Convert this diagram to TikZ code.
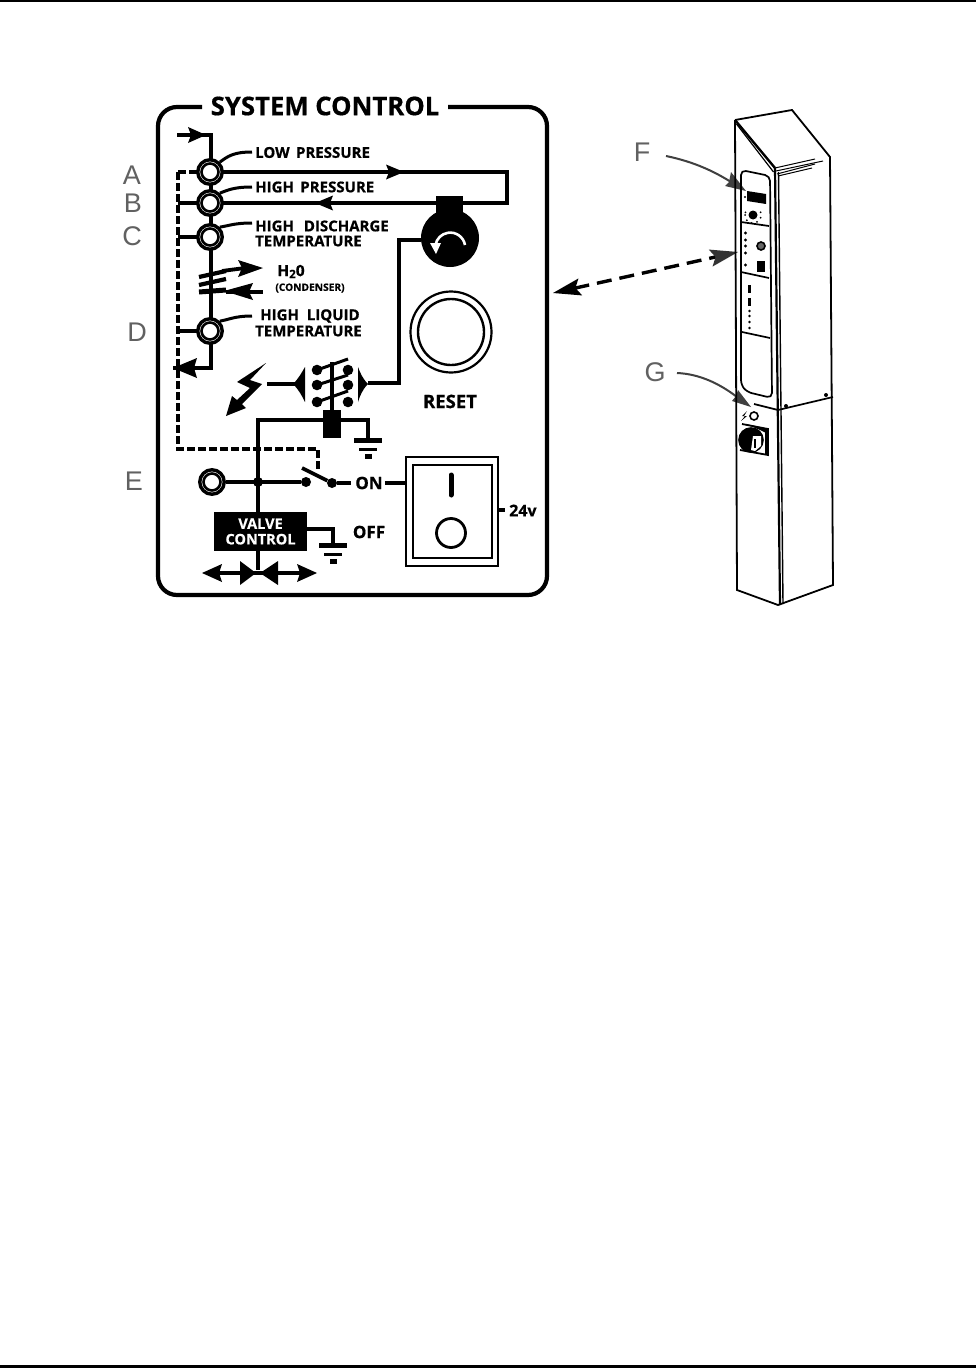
\documentclass[tikz,border=0pt]{standalone}
\usepackage{fontspec}
\setmainfont{Open Sans}[BoldFeatures={FakeBold=0.6}]
\newfontfamily\handfont{Liberation Sans}
\usetikzlibrary{arrows.meta,calc}
\tikzset{
  wire/.style={line width=3.8pt,black},
  thinwire/.style={line width=3pt,black},
  dashwire/.style={line width=4pt,black,dash pattern=on 7.5pt off 3.5pt},
  lab/.style={font=\bfseries\fontsize{15}{14}\selectfont,anchor=west,inner sep=0pt},
  hand/.style={font=\handfont\fontsize{27}{27}\selectfont,text=black!62,inner sep=0pt},
  dotn/.style={circle,fill=black,minimum size=#1,inner sep=0pt},
  tw/.style={line width=1.7pt,black},
  ringout/.style={circle,draw=black,line width=3.4pt,fill=white,minimum size=24.5pt,inner sep=0pt},
  ringin/.style={circle,draw=black,line width=2.6pt,fill=white,minimum size=17pt,inner sep=0pt},
}
\newcommand{\gnd}[2]{%
  \fill (#1-14,#2-2) rectangle (#1+14,#2+2.5);
  \fill (#1-9,#2+7.5) rectangle (#1+9,#2+11);
  \fill (#1-3.5,#2+14) rectangle (#1+3.5,#2+19);
}
\begin{document}
\begin{tikzpicture}[x=1pt,y=-1pt]
\useasboundingbox (0,0) rectangle (976,1370);
\fill[white] (0,0) rectangle (976,1370);
% page rules
\coordinate (tl) at (0,1); \coordinate (tr) at (976,1);
\coordinate (bl) at (0,1366); \coordinate (br) at (976,1366);
\draw[line width=1.5pt] (tl) -- (tr);
\draw[line width=3pt] (bl) -- (br);
% panel frame
\draw[line width=4.2pt,rounded corners=19pt] (202,107) -- (158,107) -- (158,595) -- (547,595) -- (547,107) -- (448,107);
\node[font=\bfseries\fontsize{25.7}{24}\selectfont,inner sep=0pt] (title) at (325,106) {SYSTEM CONTROL};
% hand letters
\node[hand] (la) at (132,175) {A};
\node[hand] (lb) at (133,203) {B};
\node[hand] (lc) at (132,236) {C};
\node[hand] (ld) at (137,332) {D};
\node[hand] (le) at (134,481) {E};
\node[hand] (lf) at (642,152) {F};
\node[hand] (lg) at (655,372) {G};
% coordinates
\coordinate (pt) at (211,135);
\coordinate (pin) at (177,135);
\coordinate (pb) at (211,368);
\coordinate (pout) at (173,368);
\coordinate (cr) at (507,172);
\coordinate (crb) at (507,203);
\coordinate (dtop) at (178,172);
\coordinate (dcorner) at (178,449);
\coordinate (dsw) at (318,449);
\coordinate (dswb) at (318,472);
% main pipe
\draw[wire] (pin) -- (pt) -- (pb) -- (pout);
\fill (173,368) -- (197,358) -- (194,368) -- (197,378) -- cycle;
\fill (206,135) -- (188,127) -- (191,135) -- (188,143) -- cycle;
% dashed
\draw[dashwire] (dtop) -- (dcorner) -- (dsw) -- (dswb);
\draw[dashwire] (dtop) -- (200,172);
\draw[wire] (178,203) -- (200,203);
\draw[wire] (178,237) -- (200,237);
\draw[wire] (178,331) -- (200,331);
% flow loop
\draw[line width=4.2pt,line join=miter] (211,172) -- (cr) -- (crb) -- (211,203);
\fill (404,172) -- (386,164.5) -- (389,172) -- (386,179.5) -- cycle;
\fill (315,203) -- (333,195.5) -- (330,203) -- (333,210.5) -- cycle;
% sensors
\foreach \n/\y in {sa/172,sb/203,sc/237,sd/331}{
  \node[ringout] (\n) at (210,\y) {};
  \node[ringin] at (210,\y) {};
}
\node[ringout] (se) at (212,482) {};
\node[ringin] at (212,482) {};
% leaders
\draw[thinwire] (sa.45) .. controls (228,156) and (234,152) .. (252,152);
\draw[thinwire] (sb.45) .. controls (228,190) and (234,187) .. (252,187);
\draw[thinwire] (sc.45) .. controls (228,226) and (234,223) .. (252,223);
\draw[thinwire] (sd.45) .. controls (228,320) and (234,316) .. (252,316);
% labels
\node[lab] (t1) at (255,152.5) {LOW\hspace{2.5pt} PRESSURE};
\node[lab] (t2) at (255,187) {HIGH\hspace{2.5pt} PRESSURE};
\node[lab] (t3) at (255,226) {HIGH\hspace{6pt} DISCHARGE};
\node[lab] (t4) at (255,241) {TEMPERATURE};
\node[lab] (t5) at (260,316) {HIGH\hspace{4pt} LIQUID};
\node[lab] (t6) at (255,331) {TEMPERATURE};
% condenser
\draw[line width=4.2pt] (199,277) -- (226,271);
\draw[line width=4.2pt] (199,285) -- (226,279);
\draw[line width=5pt] (199,292) -- (226,290);
\draw[line width=3.8pt] (222,271) -- (245,268);
\fill (263,268) -- (238,260) -- (242,268) -- (238,277) -- cycle;
\draw[line width=3.8pt] (226,292) -- (263,292);
\fill (224,291) -- (253,283) -- (249,292) -- (253,300) -- cycle;
\node[font=\bfseries\fontsize{15.5}{15}\selectfont,inner sep=0pt] (h2o) at (291,271.5) {H\raisebox{-2pt}{\fontsize{11.5}{11}\selectfont 2}0};
\node[font=\bfseries\fontsize{10.2}{9}\selectfont,inner sep=0pt] (cond) at (310,288) {(CONDENSER)};
% compressor
\fill (436,196) rectangle (463,215);
\node[circle,fill=black,minimum size=58pt,inner sep=0pt] (comp) at (450,238) {};
\draw[white,line width=2.6pt] (465,245) arc[start angle=-10,end angle=-170,radius=15];
\fill[white] (430,243) -- (441,243) -- (436,254) -- cycle;
\coordinate (cw1) at (399,240);
\coordinate (cw2) at (399,383);
\draw[wire] (comp.west |- cw1) -- (cw1) -- (cw2) -- (368,383);
% reset
\node[circle,draw=black,line width=2.2pt,minimum size=81pt,inner sep=0pt] (ro) at (451,332) {};
\node[circle,draw=black,line width=2.4pt,minimum size=66pt,inner sep=0pt] (ri) at (451,332) {};
\node[font=\bfseries\fontsize{18.5}{16}\selectfont,inner sep=0pt] (reset) at (450,401.5) {RESET};
% lightning
\fill (266,363) -- (237,382) -- (250,388) -- (237,400) -- (232,396) -- (226,416) -- (246,408) -- (242,404) -- (262,384) -- (250,380) -- cycle;
\draw[wire] (267,384) -- (295,384);
% relay
\fill (368,384) .. controls (362,378) and (360,372) .. (358,367) -- (358,402) .. controls (360,396) and (362,390) .. (368,384) -- cycle;
\fill (293,384) .. controls (299,378) and (302,372) .. (305,367) -- (305,402) .. controls (302,396) and (299,390) .. (293,384) -- cycle;
\foreach \x in {317,348}\foreach \y in {370,385,402}{\fill (\x,\y) circle (5.3);}
\draw[wire] (332,362) -- (332,412);
\draw[line width=3pt] (317,370) -- (348,359);
\draw[line width=3pt] (317,385) -- (348,375);
\draw[line width=3pt] (317,402) -- (348,391);
\node[fill=black,minimum width=18pt,minimum height=28pt,inner sep=0pt] (coil) at (332,424) {};
\coordinate (cwl) at (258,420);
\coordinate (cwr) at (368,420);
\coordinate (cwd) at (368,438);
\draw[wire] (cwd) -- (cwr) -- (cwl) -- (258,512);
\gnd{368}{440}
% E line
\node[dotn=10pt] (jn) at (258,482) {};
\node[dotn=10pt] (sw1) at (306,482) {};
\node[dotn=10pt] (sw2) at (332,483) {};
\draw[wire] (se) -- (sw1);
\draw[line width=3.6pt] (302,468) -- (sw2);
\draw[wire] (sw2) -- (351,483);
\node[font=\bfseries\fontsize{17}{17}\selectfont,inner sep=0pt] (on) at (369,483) {ON};
% rocker
\node[draw=black,line width=2.2pt,minimum width=92pt,minimum height=109pt,inner sep=0pt] (rk) at (452,511.5) {};
\node[draw=black,line width=2.6pt,minimum width=79pt,minimum height=93pt,inner sep=0pt] (rki) at (452.5,511.5) {};
\draw[line width=5pt,line cap=round] (451,475) -- (451,495);
\node[circle,draw=black,line width=2.8pt,minimum size=29pt,inner sep=0pt] (rkc) at (451,533) {};
\draw[wire] ($(on.east)+(2,0)$) -- (rk.west |- on);
\coordinate (v24) at (505,510);
\draw[wire] (rk.east |- v24) -- (v24);
\node[font=\bfseries\fontsize{16}{14}\selectfont,inner sep=0pt,anchor=west] (t24) at (509,510.5) {24v};
\node[font=\bfseries\fontsize{17}{17}\selectfont,inner sep=0pt] (off) at (369,532) {OFF};
% valve control
\node[fill=black,text=white,align=center,minimum width=93pt,minimum height=39pt,inner sep=0pt,font=\bfseries\fontsize{14.5}{15.5}\selectfont] (vc) at (260.5,531.5) {VALVE\\CONTROL};
\coordinate (vw) at (333,529);
\coordinate (vwd) at (333,545);
\draw[wire] (vc.east |- vw) -- (vw) -- (vwd);
\gnd{333}{545}
\coordinate (vb) at (258,570);
\draw[wire] (vc.south -| vb) -- (vb);
% valve arrows
\draw[wire] (215,573) -- (306,573);
\fill (202,573) -- (222,564) -- (219,573) -- (222,582) -- cycle;
\fill (317,573) -- (297,564) -- (300,573) -- (297,582) -- cycle;
\fill (256,573) -- (240,561) -- (240,585) -- cycle;
\fill (260,573) -- (278,561) -- (278,585) -- cycle;
% double-headed dashed arrow
\coordinate (da1) at (553,293);
\coordinate (da2) at (738,252);
\draw[line width=3.4pt,dash pattern=on 15pt off 8pt] ($(da1)!22pt!(da2)$) -- ($(da2)!22pt!(da1)$);
\fill (da1) -- ($(da1)!28pt!(da2)+(-1.9,-8.5)$) -- ($(da1)!23pt!(da2)$) -- ($(da1)!28pt!(da2)+(1.9,8.5)$) -- cycle;
\fill[black!80] (da2) -- ($(da2)!28pt!(da1)+(-1.9,-8.5)$) -- ($(da2)!23pt!(da1)$) -- ($(da2)!28pt!(da1)+(1.9,8.5)$) -- cycle;
% F, G arrows
\coordinate (fs) at (666,156);
\coordinate (ft) at (746,191);
\draw[line width=2pt,black!75] (fs) .. controls (695,162) and (715,172) .. (731,182);
\fill[black!75] (ft) -- (725,186) -- (729,182) -- (731,172) -- cycle;
\coordinate (gs) at (677,373);
\coordinate (gt) at (751,407);
\draw[line width=2pt,black!75] (gs) .. controls (700,374) and (720,384) .. (737,397);
\fill[black!75] (gt) -- (732,401) -- (736,396) -- (738,390) -- cycle;
% tower outline
\coordinate (T1) at (735,120);
\coordinate (T2) at (792,110);
\coordinate (T3) at (830,157);
\coordinate (T4) at (775,168);
\coordinate (T5) at (737,590);
\coordinate (T6) at (778,605);
\coordinate (T7) at (833,585);
\draw[line width=1.8pt] (T1) -- (T2) -- (T3) -- (T7) -- (T6) -- (T5) -- (T1);
\draw[line width=2.4pt] (T1) -- (T4);
\draw[line width=1.2pt] (736.5,124) -- (773.5,172);
\draw[line width=2.2pt] (775,168) -- (780,605);
\draw[line width=1.4pt] (778.5,172) -- (783,604);
\draw[line width=1pt] (775,168) -- (815,159);
\draw[line width=1pt] (776,171) -- (823,161);
\draw[line width=1pt] (777,174) -- (815,164);
\draw[line width=1pt] (778,176) -- (812,168);
% seam
\draw[tw] (754,404) -- (778,410) -- (833,397);
\fill (786,406) circle (2);
\fill (826,395) circle (2);
% face panel
\draw[tw,rounded corners=5pt] (741,230) -- (741,170) -- (770,176) -- (772,398) -- (747,392) -- (741,385) -- (741,230);
\draw[tw] (741,222) -- (769,226);
\draw[tw] (741,272) -- (769,278);
\draw[tw] (742,332) -- (770,338);
% display
\fill (747,191) -- (766,194) -- (766,204) -- (747,201) -- cycle;
\fill (745,197) circle (1.2);
\node[circle,fill=black,minimum size=9pt,inner sep=0pt] (knob1) at (753,215) {};
\foreach \a in {20,60,100,140,180,-20,-160}{\fill ($(knob1)+(\a:8)$) circle (1);}
\foreach \y in {233,240,246,253,265}{\fill (745.5,\y) circle (1.7);}
\node[circle,draw=black,line width=1.6pt,fill=black!60,minimum size=8pt,inner sep=0pt] (knob2) at (761,246) {};
\fill (757,261) rectangle (765,272);
\fill (747.5,285) rectangle (750.5,293);
\fill (748,298) rectangle (751,306);
\foreach \y in {311,316,322,328}{\fill (749.5,\y) circle (1.4);}
% rotary switch
\fill (747,411) -- (742,416) -- (745,416) -- (741,421) -- (747,416) -- (744,416) -- cycle;
\node[circle,draw=black,line width=1.6pt,minimum size=8pt,inner sep=0pt] (rs0) at (754,416) {};
\draw[line width=1.8pt] (742,424) -- (768,429) -- (768,455) -- (740,450);
\fill (746,424) -- (768,429) -- (768,434) -- (760,430) -- cycle;
\fill (765,431) rectangle (768,455);
\node[circle,draw=black,line width=1.6pt,fill=black,minimum size=24pt,inner sep=0pt] (rs1) at (751,440) {};
\fill[white] (753,436) -- (761,436) -- (761,446) -- (755,451) -- (751,450) -- cycle;
\draw[line width=1.3pt] (755,439) -- (755,448);
\end{tikzpicture}
\end{document}
